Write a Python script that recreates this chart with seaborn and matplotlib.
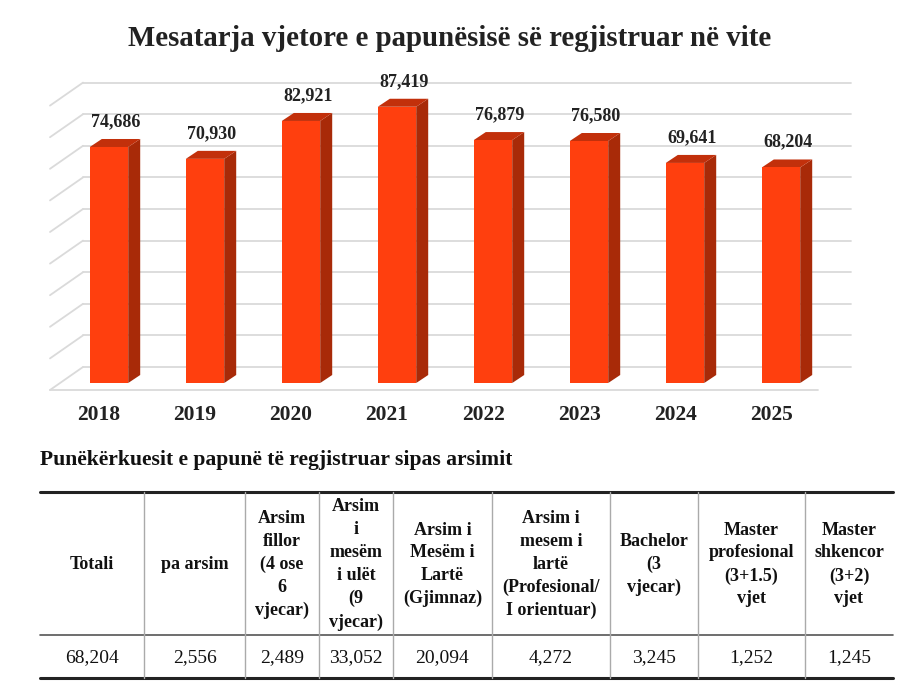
import matplotlib
matplotlib.use("Agg")
import matplotlib.pyplot as plt
import matplotlib.transforms as mtransforms
from matplotlib.patches import Polygon
import numpy as np
import seaborn as sns

# data
years = ["2018", "2019", "2020", "2021", "2022", "2023", "2024", "2025"]
avg_unemployed = [74686, 70930, 82921, 87419, 76879, 76580, 69641, 68204]

edu_headers = [
    "Totali",
    "pa arsim",
    "Arsim\nfillor\n(4 ose\n6\nvjecar)",
    "Arsim\ni\nmesëm\ni ulët\n(9\nvjecar)",
    "Arsim i\nMesëm i\nLartë\n(Gjimnaz)",
    "Arsim i\nmesem i\nlartë\n(Profesional/\nI orientuar)",
    "Bachelor\n(3\nvjecar)",
    "Master\nprofesional\n(3+1.5)\nvjet",
    "Master\nshkencor\n(3+2)\nvjet",
]
edu_values = [68204, 2556, 2489, 33052, 20094, 4272, 3245, 1252, 1245]

title = "Mesatarja vjetore e papunësisë së regjistruar në vite"
subtitle = "Punëkërkuesit e papunë të regjistruar sipas arsimit"

sns.set_theme(style="white")
plt.rcParams["font.family"] = ["Liberation Serif", "DejaVu Serif"]

W, H = 900, 681
fig = plt.figure(figsize=(W / 100, H / 100), dpi=100)
fig.patch.set_facecolor("white")

FRONT = "#FF3F0E"
SIDE = "#A82A08"
TOP = "#C2300B"
GRID = "#DADADA"

# bar front plane, pixel layout
ax = fig.add_axes([61 / W, (H - 383) / H, 768 / W, 284.4 / H])
sns.barplot(x=years, y=avg_unemployed, color=FRONT, saturation=1, width=0.4,
            linewidth=0, ax=ax, zorder=3)
ax.set_xlim(-0.5, 7.5)
ax.set_ylim(0, 90000)
ax.set_facecolor("none")
for s in ax.spines.values():
    s.set_visible(False)
ax.set_yticks([])
ax.set_xlabel("")
ax.set_ylabel("")

# depth offsets in pixels
BACK = (22, 16)
EDGE = (-11, -7)
DEPTH = (12, 8)


def shifted(x, y, off):
    p = ax.transData.transform((x, y)) + np.array(off)
    return ax.transData.inverted().transform(p)


# back wall + left wall gridlines
x0, x1 = ax.get_xlim()
for v in range(0, 90001, 10000):
    a = shifted(x0, v, BACK)
    b = shifted(x1, v, BACK)
    c = shifted(x0, v, EDGE)
    ax.plot([a[0], b[0]], [a[1], b[1]], color=GRID, lw=1.3, zorder=0.5, clip_on=False)
    ax.plot([a[0], c[0]], [a[1], c[1]], color=GRID, lw=1.3, zorder=0.5, clip_on=False)
# floor front edge
a = shifted(x0, 0, EDGE)
b = shifted(x1, 0, EDGE)
ax.plot([a[0], b[0]], [a[1], b[1]], color=GRID, lw=1.3, zorder=0.5, clip_on=False)

# side and top faces of each bar
for bar in ax.patches[:len(years)]:
    bx0 = bar.get_x()
    bx1 = bx0 + bar.get_width()
    h = bar.get_height()
    side = [(bx1, 0), (bx1, h), tuple(shifted(bx1, h, DEPTH)), tuple(shifted(bx1, 0, DEPTH))]
    top = [(bx0, h), (bx1, h), tuple(shifted(bx1, h, DEPTH)), tuple(shifted(bx0, h, DEPTH))]
    ax.add_patch(Polygon(side, closed=True, facecolor=SIDE, edgecolor="none", zorder=2, clip_on=False))
    ax.add_patch(Polygon(top, closed=True, facecolor=TOP, edgecolor="none", zorder=2, clip_on=False))

# value labels
for i, v in enumerate(avg_unemployed):
    ax.annotate(f"{v:,}", xy=(i, v), xytext=(7, 21), textcoords="offset pixels",
                ha="center", va="baseline", fontsize=13, fontweight="bold", color="#222222")

# year labels, shifted to the floor front edge
ax.tick_params(axis="x", length=0, pad=16, labelsize=15.5)
shift = mtransforms.ScaledTranslation(-10 / 100, 0, fig.dpi_scale_trans)
for lab in ax.get_xticklabels():
    lab.set_fontweight("bold")
    lab.set_color("#222222")
    lab.set_transform(lab.get_transform() + shift)

fig.text(0.5, 1 - 46 / H, title, ha="center", va="baseline", fontsize=20.8,
         fontweight="bold", color="#222222")
fig.text(40 / W, 1 - 465 / H, subtitle, ha="left", va="baseline", fontsize=15.6,
         fontweight="bold", color="#111111")

# table
tax = fig.add_axes([0, 0, 1, 1])
tax.set_xlim(0, W)
tax.set_ylim(H, 0)
tax.axis("off")
tax.patch.set_alpha(0)

col_edges = [40, 144, 245, 319, 393, 492, 610, 698, 805, 893]
y_top, y_mid, y_bot = 492, 635, 678

tax.plot([col_edges[0], col_edges[-1]], [y_top, y_top], color="#222222", lw=2.2)
tax.plot([col_edges[0], col_edges[-1]], [y_mid, y_mid], color="#555555", lw=1.2)
tax.plot([col_edges[0], col_edges[-1]], [y_bot, y_bot], color="#222222", lw=2.2)
for xe in col_edges[1:-1]:
    tax.plot([xe, xe], [y_top, y_bot], color="#AAAAAA", lw=1.0)

for i, (hdr, val) in enumerate(zip(edu_headers, edu_values)):
    xc = (col_edges[i] + col_edges[i + 1]) / 2
    tax.text(xc, (y_top + y_mid) / 2 + 1, hdr, ha="center", va="center", fontsize=13,
             fontweight="bold", linespacing=1.45, color="#111111")
    tax.text(xc, (y_mid + y_bot) / 2 + 1, f"{val:,}", ha="center", va="center",
             fontsize=14, color="#111111")

fig.savefig("out.png", dpi=100, facecolor="white")
